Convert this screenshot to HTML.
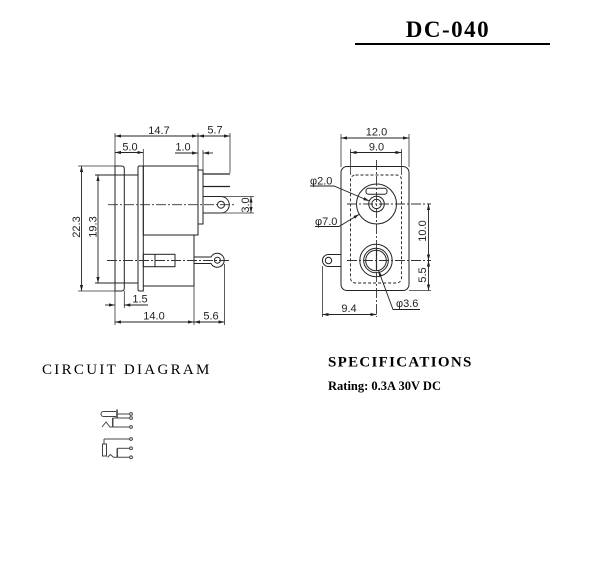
<!DOCTYPE html>
<html><head><meta charset="utf-8"><style>
html,body{margin:0;padding:0;background:#fff;}
svg{display:block;}
.d{font-family:"Liberation Sans",Arial,sans-serif;font-size:11px;fill:#222;}
</style></head><body>
<svg width="603" height="573" viewBox="0 0 603 573" xmlns="http://www.w3.org/2000/svg">
<defs>
<marker id="a" viewBox="0 0 6 4" markerWidth="6" markerHeight="4" markerUnits="userSpaceOnUse" refX="6" refY="2" orient="auto-start-reverse">
<path d="M0,0.4 L6,2 L0,3.6 z" fill="#222"/></marker>
</defs>

<!-- Title -->
<text x="448" y="37" text-anchor="middle" font-family="Liberation Serif,serif" font-weight="bold" font-size="23" letter-spacing="1.5" fill="#000">DC-040</text>
<rect x="355" y="43" width="195" height="2" fill="#000"/>

<!-- ================= LEFT VIEW ================= -->
<g stroke="#222" stroke-width="1" fill="none">
<!-- flange 1 -->
<path d="M115,291 V166 H121.5 Q124.3,166 124.3,169 V288 Q124.3,291 121.5,291 Z"/>
<!-- flange 2 -->
<path d="M138,167.5 Q138,166 139.5,166 H143.3 V291 H139.5 Q138,291 138,289.5 Z"/>
<!-- between flanges / 19.3 extension -->
<line x1="95" y1="175" x2="138" y2="175"/>
<line x1="95" y1="283" x2="138" y2="283"/>
<!-- upper body -->
<rect x="143.3" y="166" width="54.7" height="69"/>
<!-- lower body -->
<path d="M143.3,235 H194 V286 H143.3"/>
<!-- rear plate -->
<rect x="198" y="170" width="5" height="54"/>
<!-- pins -->
<line x1="203" y1="174" x2="230" y2="174" stroke-width="1.3"/>
<line x1="203" y1="186.5" x2="230" y2="186.5" stroke-width="1.3"/>
<!-- upper lug -->
<path d="M203,196.5 H221 A8.25,8.25 0 0 1 221,213 H203"/>
<circle cx="221" cy="204.7" r="3.5"/>
<!-- tube -->
<rect x="143.3" y="254.3" width="31.7" height="12.4"/>
<line x1="155" y1="254.3" x2="155" y2="266.7"/>
<!-- lower lug -->
<path d="M194,257 H211 A7,7 0 1 1 211,263.5 H194"/>
<circle cx="217.4" cy="260.2" r="3"/>
</g>
<!-- centerlines -->
<g stroke="#333" stroke-width="0.9" stroke-dasharray="10 2 2 2" fill="none">
<line x1="108" y1="204.7" x2="235" y2="204.7"/>
<line x1="107" y1="260.5" x2="229" y2="260.5"/>
</g>
<!-- extension lines -->
<g stroke="#333" stroke-width="0.8" fill="none">
<line x1="115" y1="133" x2="115" y2="166"/>
<line x1="115" y1="291" x2="115" y2="325"/>
<line x1="143.3" y1="149" x2="143.3" y2="166"/>
<line x1="198" y1="133" x2="198" y2="166"/>
<line x1="203" y1="150" x2="203" y2="170"/>
<line x1="230" y1="133" x2="230" y2="173"/>
<line x1="124.3" y1="291" x2="124.3" y2="308"/>
<line x1="194" y1="286" x2="194" y2="325"/>
<line x1="224.5" y1="264" x2="224.5" y2="325"/>
<line x1="78" y1="166" x2="115" y2="166"/>
<line x1="78" y1="291" x2="115" y2="291"/>
<line x1="222" y1="196.5" x2="254" y2="196.5"/>
<line x1="222" y1="213" x2="254" y2="213"/>
</g>
<!-- dimension lines -->
<g stroke="#222" stroke-width="0.9" fill="none">
<line x1="115" y1="136" x2="198" y2="136" marker-start="url(#a)" marker-end="url(#a)"/>
<line x1="198" y1="136" x2="230" y2="136" marker-start="url(#a)" marker-end="url(#a)"/>
<line x1="115" y1="152.5" x2="143.3" y2="152.5" marker-start="url(#a)" marker-end="url(#a)"/>
<line x1="175" y1="153" x2="198" y2="153" marker-end="url(#a)"/>
<line x1="213" y1="153" x2="203" y2="153" marker-end="url(#a)"/>
<line x1="81.5" y1="166" x2="81.5" y2="291" marker-start="url(#a)" marker-end="url(#a)"/>
<line x1="98" y1="175" x2="98" y2="283" marker-start="url(#a)" marker-end="url(#a)"/>
<line x1="251" y1="196.5" x2="251" y2="213" marker-start="url(#a)" marker-end="url(#a)"/>
<line x1="105" y1="305" x2="115" y2="305" marker-end="url(#a)"/>
<line x1="148" y1="305" x2="124.3" y2="305" marker-end="url(#a)"/>
<line x1="115" y1="322" x2="194" y2="322" marker-start="url(#a)" marker-end="url(#a)"/>
<line x1="194" y1="322" x2="224.5" y2="322" marker-start="url(#a)" marker-end="url(#a)"/>
</g>
<g class="d">
<text x="159" y="134" text-anchor="middle">14.7</text>
<text x="215" y="133.5" text-anchor="middle">5.7</text>
<text x="130" y="150.5" text-anchor="middle">5.0</text>
<text x="183" y="150.5" text-anchor="middle">1.0</text>
<text x="140" y="302.5" text-anchor="middle">1.5</text>
<text x="154" y="319.5" text-anchor="middle">14.0</text>
<text x="211" y="319.5" text-anchor="middle">5.6</text>
<text transform="translate(80,227) rotate(-90)" text-anchor="middle">22.3</text>
<text transform="translate(96.5,227) rotate(-90)" text-anchor="middle">19.3</text>
<text transform="translate(249,205) rotate(-90)" text-anchor="middle">3.0</text>
</g>

<!-- ================= RIGHT VIEW ================= -->
<g stroke="#222" stroke-width="1" fill="none">
<rect x="341" y="166.5" width="68" height="124" rx="6"/>
<rect x="350.5" y="175" width="51" height="108" rx="5" stroke-dasharray="3 2" stroke-width="0.9"/>
<circle cx="376.5" cy="204" r="20"/>
<circle cx="376.5" cy="204" r="7.8"/>
<circle cx="376.5" cy="204" r="4.7"/>
<rect x="366" y="188.3" width="21" height="6" rx="2.5"/>
<circle cx="376" cy="260.5" r="16.2"/>
<circle cx="376" cy="260.5" r="12.3"/>
<circle cx="376" cy="260.5" r="10.3"/>
<line x1="376.5" y1="248.5" x2="376.5" y2="270.5" stroke-width="1.2"/>
<path d="M341,254.5 H328.5 A6,6 0 0 0 328.5,266.5 H341"/>
<circle cx="328.5" cy="260.5" r="3.2"/>
</g>
<g stroke="#333" stroke-width="0.9" stroke-dasharray="10 2 2 2" fill="none">
<line x1="376.5" y1="160" x2="376.5" y2="317"/>
<line x1="347" y1="204" x2="431" y2="204"/>
<line x1="347" y1="260.5" x2="431" y2="260.5"/>
</g>
<g stroke="#333" stroke-width="0.8" fill="none">
<line x1="341" y1="134" x2="341" y2="167"/>
<line x1="409" y1="134" x2="409" y2="167"/>
<line x1="350.5" y1="149" x2="350.5" y2="175"/>
<line x1="401.5" y1="149" x2="401.5" y2="175"/>
<line x1="409" y1="290.5" x2="431" y2="290.5"/>
<line x1="322.5" y1="266" x2="322.5" y2="317"/>
</g>
<g stroke="#222" stroke-width="0.9" fill="none">
<line x1="341" y1="138" x2="409" y2="138" marker-start="url(#a)" marker-end="url(#a)"/>
<line x1="350.5" y1="152.5" x2="401.5" y2="152.5" marker-start="url(#a)" marker-end="url(#a)"/>
<line x1="428.5" y1="204" x2="428.5" y2="260.5" marker-start="url(#a)" marker-end="url(#a)"/>
<line x1="428.5" y1="260.5" x2="428.5" y2="290.5" marker-start="url(#a)" marker-end="url(#a)"/>
<line x1="322.5" y1="314.5" x2="376.5" y2="314.5" marker-start="url(#a)" marker-end="url(#a)"/>
<polyline points="310,186 334,186 369.3,201" marker-end="url(#a)"/>
<polyline points="315,226.5 339,226.5 359.3,214.3" marker-end="url(#a)"/>
<polyline points="420,309.5 393,309.5 378.5,270.5" marker-end="url(#a)"/>
</g>
<g class="d">
<text x="376.5" y="135.5" text-anchor="middle">12.0</text>
<text x="376.5" y="150.5" text-anchor="middle">9.0</text>
<text x="349" y="312" text-anchor="middle">9.4</text>
<text transform="translate(426,231) rotate(-90)" text-anchor="middle">10.0</text>
<text transform="translate(426,275) rotate(-90)" text-anchor="middle">5.5</text>
<text x="310" y="184.5">φ2.0</text>
<text x="315" y="225">φ7.0</text>
<text x="396" y="307">φ3.6</text>
</g>

<!-- ================= TEXT BLOCKS ================= -->
<text x="42" y="374" font-family="Liberation Serif,serif" font-size="15" letter-spacing="2.3" fill="#000">CIRCUIT DIAGRAM</text>
<text x="328" y="366.5" font-family="Liberation Serif,serif" font-weight="bold" font-size="15" letter-spacing="1.3" fill="#000">SPECIFICATIONS</text>
<text x="328" y="390" font-family="Liberation Serif,serif" font-weight="bold" font-size="12.5" fill="#000">Rating: 0.3A 30V DC</text>

<!-- ================= CIRCUIT DIAGRAM ================= -->
<g stroke="#444" stroke-width="1" fill="none">
<path d="M116,411.5 H103.5 A2.5,2.5 0 0 0 103.5,416.5 H116"/>
<line x1="117" y1="409.5" x2="117" y2="418.5" stroke-width="1.6"/>
<line x1="117" y1="414" x2="129.6" y2="414"/>
<circle cx="131" cy="414" r="1.4"/>

<line x1="112.7" y1="418" x2="129.6" y2="418"/>
<line x1="112.7" y1="418" x2="112.7" y2="427" stroke-width="1.5"/>
<path d="M102,427 L106,422 L110,427 H129.6"/>
<circle cx="131" cy="418" r="1.4"/>
<circle cx="131" cy="427" r="1.4"/>

<line x1="104" y1="439" x2="129.6" y2="439"/>
<line x1="104" y1="439" x2="104" y2="444"/>
<rect x="102.5" y="444" width="4" height="12"/>
<circle cx="131" cy="439" r="1.4"/>
<line x1="117.3" y1="448.3" x2="129.6" y2="448.3"/>
<line x1="117.3" y1="448.3" x2="117.3" y2="457.3" stroke-width="1.5"/>
<path d="M107.5,457.3 L110.5,454.5 L113.5,457.3 H129.6"/>
<circle cx="131" cy="448.3" r="1.4"/>
<circle cx="131" cy="457.3" r="1.4"/>
</g>
</svg>
</body></html>
